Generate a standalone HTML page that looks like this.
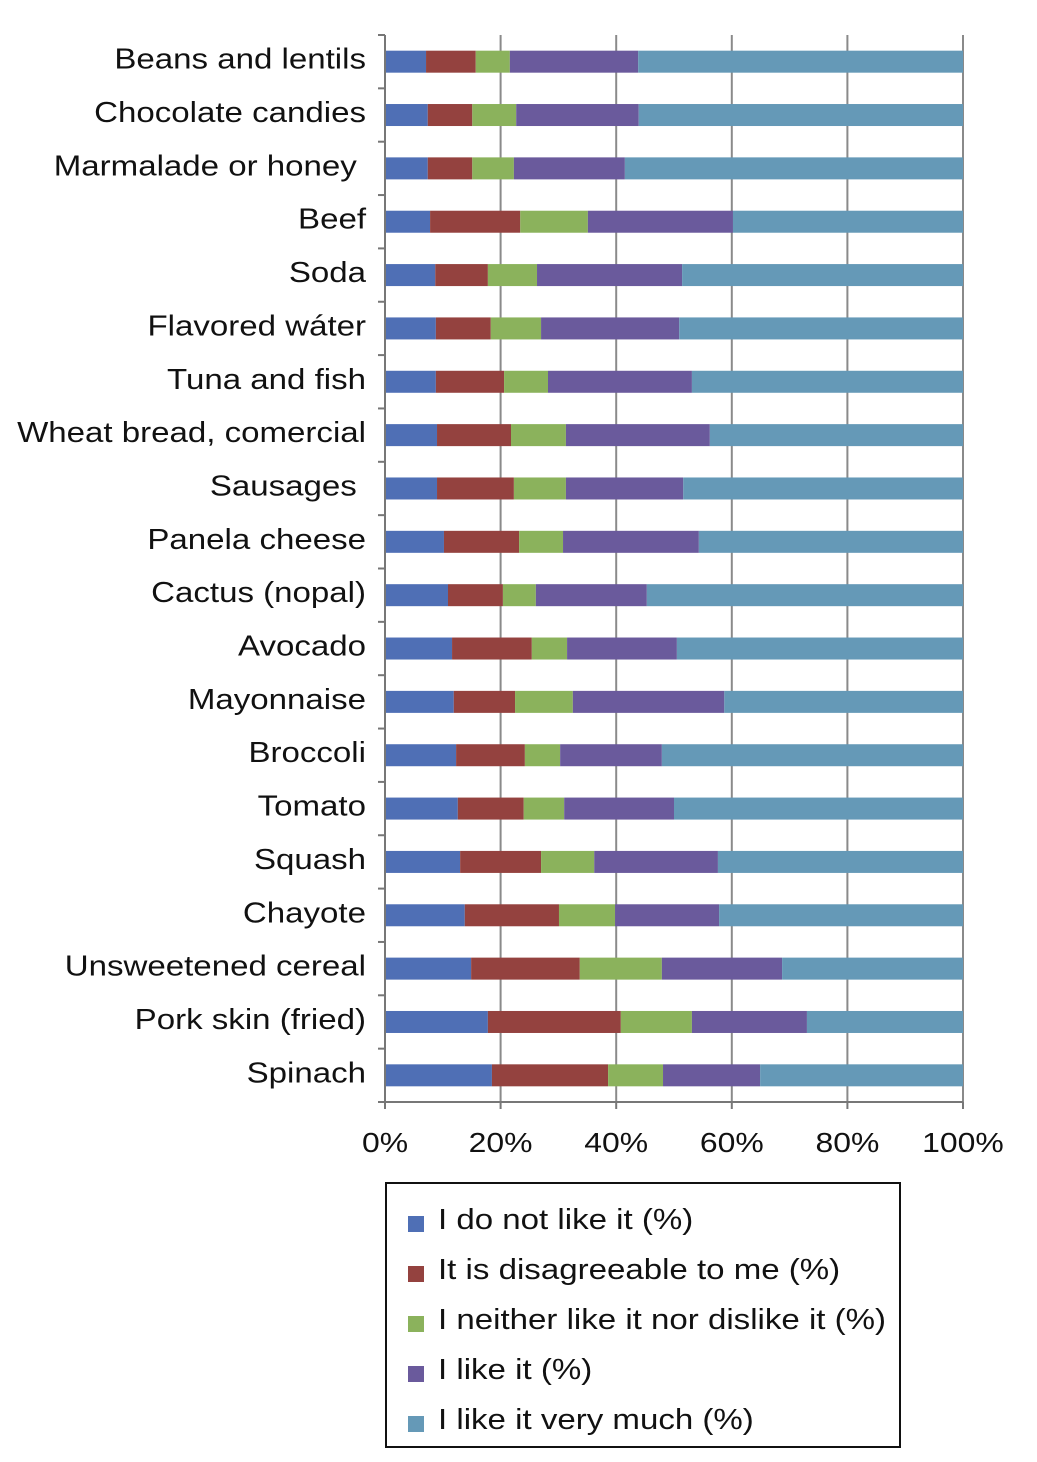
<!DOCTYPE html>
<html><head><meta charset="utf-8"><style>
html,body{margin:0;padding:0;background:#fff;}
svg{display:block;font-family:"Liberation Sans",sans-serif;}
text{white-space:pre;}
</style></head><body>
<svg id="chart" width="1037" height="1462" viewBox="0 0 1037 1462"></svg>
<script>
const categories=["Beans and lentils","Chocolate candies","Marmalade or honey ","Beef","Soda","Flavored wáter","Tuna and fish","Wheat bread, comercial","Sausages ","Panela cheese","Cactus (nopal)","Avocado","Mayonnaise","Broccoli","Tomato","Squash","Chayote","Unsweetened cereal","Pork skin (fried)","Spinach"];
const dislike=[7.1,7.4,7.4,7.8,8.7,8.8,8.8,9.0,9.0,10.2,10.9,11.6,11.9,12.3,12.6,13.0,13.8,14.9,17.8,18.5];
const disagreeable=[8.6,7.7,7.7,15.6,9.1,9.5,11.8,12.8,13.3,13.0,9.5,13.8,10.6,11.9,11.4,14.0,16.3,18.8,23.0,20.1];
const neutral=[5.9,7.6,7.2,11.7,8.5,8.7,7.6,9.5,9.0,7.6,5.7,6.1,10.0,6.1,7.0,9.2,9.7,14.2,12.3,9.5];
const like=[22.2,21.2,19.2,25.1,25.1,23.9,24.9,24.9,20.3,23.5,19.2,19.0,26.2,17.6,19.0,21.4,18.0,20.8,19.9,16.8];
const likeMuch=[56.2,56.1,58.5,39.8,48.6,49.1,46.9,43.8,48.4,45.7,54.7,49.5,41.3,52.1,50.0,42.4,42.2,31.3,27.0,35.1];
const seriesNames=["I do not like it (%)","It is disagreeable to me (%)","I neither like it nor dislike it (%)","I like it (%)","I like it very much (%)"];
const tickLabels=["0%","20%","40%","60%","80%","100%"];
const tickValues=[0,20,40,60,80,100];

const colors=["#4f6fb5","#94423f","#8bb25c","#6a5a9c","#6599b7"];
const series=[dislike,disagreeable,neutral,like,likeMuch];
const NS="http://www.w3.org/2000/svg";
const svg=document.getElementById("chart");
const X0=385,X1=963,Y0=35,Y1=1102;
const SX=1.14;
const x=v=>X0+(X1-X0)*v/100;
const step=(Y1-Y0)/categories.length;
const yc=i=>Y0+step*(i+0.5);
function mk(t,a,p){const e=document.createElementNS(NS,t);for(const k in a)e.setAttribute(k,a[k]);(p||svg).appendChild(e);return e;}
function txt(tx,ty,anchor,size,p){return mk("text",{x:0,y:0,transform:`translate(${tx},${ty}) scale(${SX},1)`,"text-anchor":anchor,"font-size":size,fill:"#111"},p);}

tickValues.forEach((v,i)=>{
  if(v>0){const g=mk("line",{x1:x(v),x2:x(v),y1:Y0,y2:Y1,stroke:"#8a8a8a","stroke-width":2});
  
  }
  const tk=mk("line",{x1:x(v),x2:x(v),y1:Y1,y2:Y1+7,stroke:"#777","stroke-width":2});
  
  
  const t=txt(x(v),1152,"middle",28);
  t.textContent=tickLabels[i];
  
  
});
categories.forEach((c,i)=>{
  let acc=0;
  series.forEach((s,k)=>{
    const r=mk("rect",{x:x(acc),y:yc(i)-11,width:x(acc+s[i])-x(acc),height:22,fill:colors[k]});
    
    
    acc+=s[i];
  });
  const t=txt(366,yc(i)+7,"end",29);
  t.setAttribute("xml:space","preserve");
  t.textContent=c;
  
  
});
for(let i=0;i<=categories.length;i++){
  const l=mk("line",{x1:X0-7,x2:X0,y1:Y0+step*i,y2:Y0+step*i,stroke:"#777","stroke-width":2});
  
  
}
const ya=mk("line",{x1:X0,x2:X0,y1:Y0,y2:Y1,stroke:"#777","stroke-width":2});


const xa=mk("line",{x1:X0,x2:X1,y1:Y1,y2:Y1,stroke:"#777","stroke-width":2});


const lg=mk("g",{});


mk("rect",{x:386,y:1183,width:514,height:264,fill:"#fff",stroke:"#111","stroke-width":2},lg);
seriesNames.forEach((n,k)=>{
  const cy=1219+50*k;
  const e=mk("g",{},lg);
  
  
  mk("rect",{x:408,y:cy-3,width:16,height:16,fill:colors[k]},e);
  const t=txt(438,cy+10,"start",29,e);
  t.textContent=n;
});
</script>
</body></html>
